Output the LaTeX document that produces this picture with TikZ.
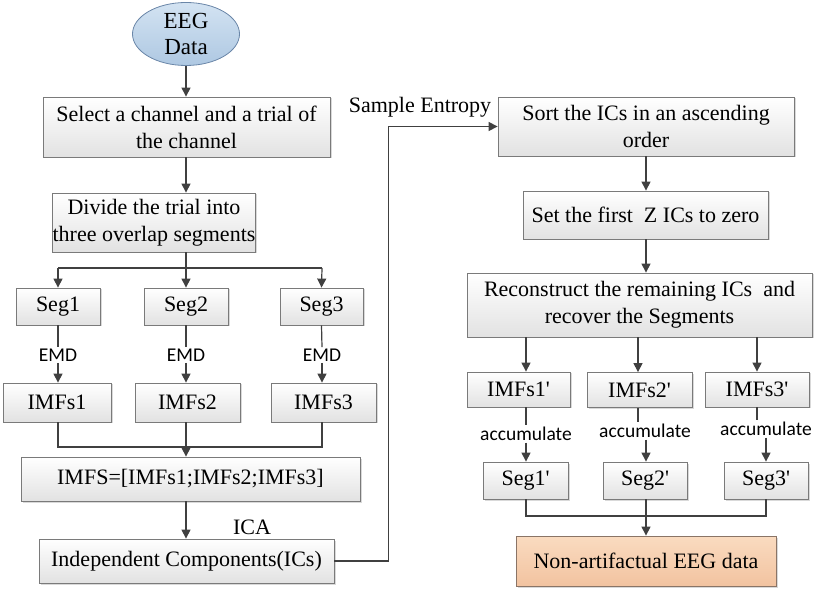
\documentclass[tikz,border=0pt]{standalone}
\usepackage{fontspec}
\setmainfont{Liberation Serif}
\newfontfamily\plainserif{Liberation Serif}
\newfontfamily\lblfont{Carlito}
\newcommand{\prm}{{\plainserif '}}
\usetikzlibrary{arrows.meta,shapes.geometric,shadows,calc}
\definecolor{linec}{HTML}{404040}
\definecolor{boxline}{HTML}{7A7A7A}
\definecolor{boxbot}{HTML}{E2E2E2}
\definecolor{eegtop}{HTML}{D3E3F2}
\definecolor{eegbot}{HTML}{AEC8E2}
\definecolor{eegline}{HTML}{6A86A8}
\definecolor{nontop}{HTML}{FADBC0}
\definecolor{nonbot}{HTML}{F2C3A0}
\definecolor{nonline}{HTML}{8A7466}
\begin{document}
\begin{tikzpicture}[x=1pt,y=-1pt,
  boxnode/.style={draw=boxline, line width=0.8pt, top color=white, bottom color=boxbot,
    drop shadow={shadow xshift=1.5pt, shadow yshift=-1.5pt, opacity=0.25, fill=black!60},
    inner sep=0pt, align=center, font=\fontsize{22}{27}\selectfont},
  lbl/.style={inner sep=1.5pt, font=\lblfont\fontsize{19.5}{21}\selectfont},
  txt/.style={inner sep=0pt, font=\fontsize{22}{27}\selectfont},
  conn/.style={draw=linec, line width=1.2pt},
  arr/.style={conn, -{Triangle[length=9pt,width=9pt]}}]
\useasboundingbox (0,0) rectangle (814,593);

% left column
\node[ellipse, draw=eegline, line width=0.8pt, top color=eegtop, bottom color=eegbot,
  minimum width=107pt, minimum height=63pt, inner sep=0pt, align=center,
  font=\fontsize{23}{26}\selectfont] (eeg) at (186,34) {EEG\\Data};
\node[boxnode, minimum width=287pt, minimum height=60pt] (b1) at (186.5,127) {Select a channel and a trial of\\the channel};
\node[boxnode, minimum width=166pt, minimum height=59pt] (b2) at (154,222.5) {Divide the trial into\\three overlap segments};

\coordinate (cx) at (186,0);
\coordinate (cl) at (58,0);
\coordinate (cr) at (322,0);
\coordinate (split) at (186,268);

\node[boxnode, minimum width=84pt, minimum height=37pt] (seg1) at (58,306.5) {Seg1};
\node[boxnode, minimum width=84pt, minimum height=37pt] (seg2) at (186,306.5) {Seg2};
\node[boxnode, minimum width=83pt, minimum height=37pt] (seg3) at (321.5,306.5) {Seg3};

\node[lbl] (emd1) at (58,355) {EMD};
\node[lbl] (emd2) at (186,355) {EMD};
\node[lbl] (emd3) at (322,355) {EMD};

\node[boxnode, minimum width=108pt, minimum height=39pt] (imf1) at (57,402.5) {IMFs1};
\node[boxnode, minimum width=105pt, minimum height=39pt] (imf2) at (187.5,402.5) {IMFs2};
\node[boxnode, minimum width=105pt, minimum height=39pt] (imf3) at (323.5,402.5) {IMFs3};
\coordinate (merge1) at (186,447);

\node[boxnode, minimum width=339pt, minimum height=44pt] (imfs) at (190.5,479) {IMFS=[IMFs1;IMFs2;IMFs3]};
\node[boxnode, minimum width=295pt, minimum height=44pt] (ics) at (186.5,561) {Independent Components(ICs)};
\node[txt] (ica) at (252,527) {ICA};

% right column
\node[txt] (se) at (420,107) {Sample Entropy};
\node[boxnode, minimum width=296pt, minimum height=59pt] (sort) at (646,126.5) {Sort the ICs in an ascending\\order};
\node[boxnode, minimum width=245pt, minimum height=48pt] (set) at (645.5,215) {Set the first~ Z ICs to zero};
\node[boxnode, minimum width=345pt, minimum height=64pt] (rec) at (639.5,305) {Reconstruct the remaining ICs~ and\\recover the Segments};

\coordinate (d1) at (526,0);
\coordinate (d2) at (638,0);
\coordinate (d3) at (757,0);
\coordinate (e2) at (646,0);
\coordinate (e3) at (766,0);

\node[boxnode, minimum width=103pt, minimum height=35pt] (ip1) at (518.5,389.5) {IMFs1\prm};
\node[boxnode, minimum width=105pt, minimum height=35pt] (ip2) at (639.5,390) {IMFs2\prm};
\node[boxnode, minimum width=104pt, minimum height=35pt] (ip3) at (757,389.5) {IMFs3\prm};

\node[lbl] (ac1) at (526,434) {accumulate};
\node[lbl] (ac2) at (645,431) {accumulate};
\node[lbl] (ac3) at (766,429) {accumulate};

\node[boxnode, minimum width=85pt, minimum height=37pt] (sp1) at (525.5,480.5) {Seg1\prm};
\node[boxnode, minimum width=84pt, minimum height=37pt] (sp2) at (645,480.5) {Seg2\prm};
\node[boxnode, minimum width=84pt, minimum height=37pt] (sp3) at (766,480.5) {Seg3\prm};
\coordinate (merge2) at (646,516);

\node[draw=nonline, line width=0.8pt, top color=nontop, bottom color=nonbot,
  drop shadow={shadow xshift=1.5pt, shadow yshift=-1.5pt, opacity=0.25, fill=black!60},
  minimum width=260pt, minimum height=50pt, inner sep=0pt,
  font=\fontsize{22}{27}\selectfont] (non) at (646,561) {Non-artifactual EEG data};

% connectors left
\draw[arr] (eeg.south) -- (eeg.south |- b1.north);
\draw[arr] (b1.south -| cx) -- (b2.north -| cx);
\draw[conn] (b2.south -| cx) -- (split);
\draw[conn] (split -| cl) -- (split -| cr);
\draw[arr] (split -| cl) -- (seg1.north);
\draw[arr] (split) -- (seg2.north);
\draw[arr] (split -| cr) -- (seg3.north);
\draw[conn] (seg1.south) -- (emd1.north);
\draw[conn] (seg2.south) -- (emd2.north);
\draw[conn] (seg3.south) -- (emd3.north);
\draw[arr] (emd1.south) -- (imf1.north -| emd1.south);
\draw[arr] (emd2.south) -- (imf2.north -| emd2.south);
\draw[arr] (emd3.south) -- (imf3.north -| emd3.south);
\draw[conn] (imf1.south -| cl) |- (merge1);
\draw[conn] (imf3.south -| cr) |- (merge1);
\draw[conn] (imf2.south -| cx) -- (merge1);
\draw[arr] (merge1) -- (imfs.north -| cx);
\draw[arr] (imfs.south -| cx) -- (ics.north -| cx);
\draw[arr] (ics.east) -- ++(54,0) |- (sort.west);

% connectors right
\draw[arr] (sort.south -| e2) -- (set.north -| e2);
\draw[arr] (set.south -| e2) -- (rec.north -| e2);
\draw[arr] (rec.south -| d1) -- (ip1.north -| d1);
\draw[arr] (rec.south -| d2) -- (ip2.north -| d2);
\draw[arr] (rec.south -| d3) -- (ip3.north -| d3);
\draw[conn] (ip1.south -| d1) -- (ac1.north -| d1);
\draw[conn] (ip2.south -| d2) -- (ac2.north -| d2);
\draw[conn] (ip3.south -| d3) -- (ac3.north -| d3);
\draw[arr] (ac1.south -| d1) -- (sp1.north -| d1);
\draw[arr] (ac2.south -| e2) -- (sp2.north -| e2);
\draw[arr] (ac3.south -| e3) -- (sp3.north -| e3);
\draw[conn] (sp1.south -| d1) |- (merge2);
\draw[conn] (sp3.south -| e3) |- (merge2);
\draw[conn] (sp2.south -| e2) -- (merge2);
\draw[arr] (merge2) -- (non.north -| e2);
\end{tikzpicture}
\end{document}
